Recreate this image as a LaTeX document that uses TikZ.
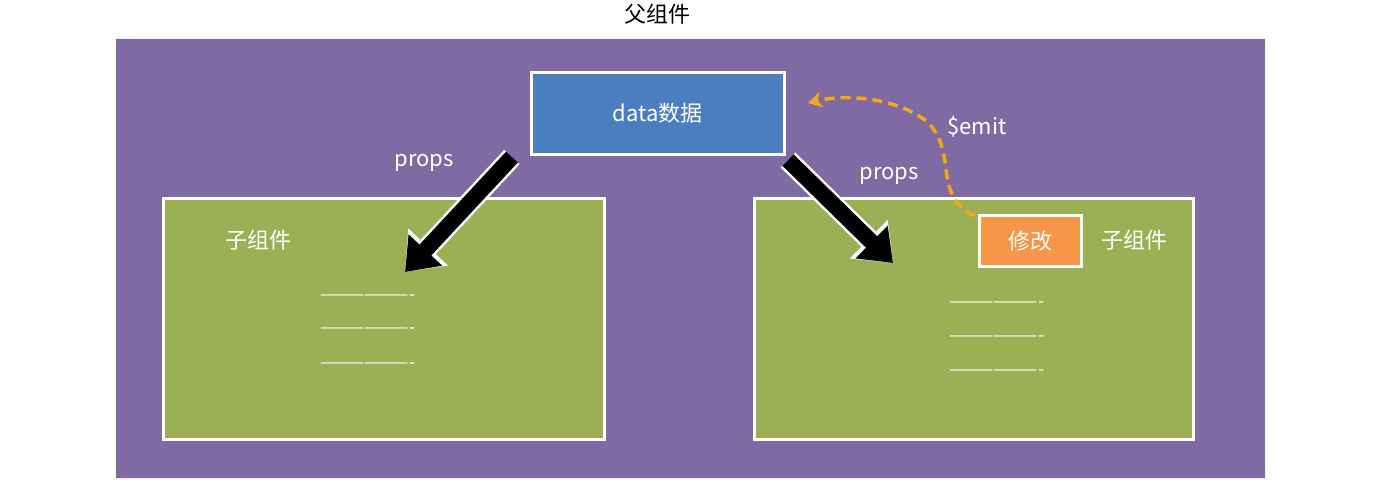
\documentclass[tikz,border=0pt]{standalone}
\usepackage{fontspec}
\setmainfont{Noto Sans CJK SC}
\usetikzlibrary{arrows.meta}
\definecolor{pur}{HTML}{7F6AA3}
\definecolor{blu}{HTML}{4A7EC1}
\definecolor{grn}{HTML}{9BB055}
\definecolor{org}{HTML}{F79646}
\definecolor{gold}{HTML}{F2A818}
\begin{document}
\begin{tikzpicture}[x=1pt,y=-1pt,
  box/.style={draw=white,line width=2.5pt,inner sep=0pt,anchor=north west},
  txt/.style={font=\fontsize{22}{26}\selectfont,text=white},
  dashtxt/.style={font=\fontsize{18}{20}\selectfont,text=white},
  big/.style={line width=16pt,-{Triangle[length=30pt,width=44pt]},black,
    preaction={draw=white,line width=21pt,-{Triangle[length=34pt,width=52pt]}}}]
\useasboundingbox[fill=white] (0,0) rectangle (1374,498);
\node[font=\fontsize{22}{26}\selectfont] (title) at (657,14) {父组件};
\node[box,draw=white!90!gray,line width=1pt,fill=pur,minimum width=1150pt,minimum height=440pt] (parent) at (115,38) {};
\node[box,fill=blu,minimum width=253pt,minimum height=82pt] (data) at (530,71) {};
\node[txt] at (data.center) {data数据};
\node[box,fill=grn,minimum width=441pt,minimum height=241pt] (left) at (162,197) {};
\node[box,fill=grn,minimum width=439pt,minimum height=241pt] (right) at (753,197) {};
\node[box,fill=org,minimum width=102pt,minimum height=51pt] (fix) at (978,214) {};
\node[txt] at (fix.center) {修改};
\node[txt] (lc) at (258,240) {子组件};
\node[txt] (rc) at (1134,240) {子组件};
\node[txt] (p1) at (424,163) {props};
\node[txt] (p2) at (889,176) {props};
\node[txt] (em) at (977,127) {\$emit};
\foreach \y [count=\i] in {298,331,366} \node[dashtxt] (l\i) at (368,\y) {-------------------};
\foreach \y [count=\i] in {305,339,373} \node[dashtxt] (r\i) at (997,\y) {-------------------};
\coordinate (a1s) at (512,157);
\coordinate (a1e) at (405,272);
\coordinate (a2s) at (788,160);
\coordinate (a2e) at (893,263);
\draw[big] (a1s) -- (a1e);
\draw[big] (a2s) -- (a2e);
\coordinate (gs) at (975,216);
\coordinate (ge) at (808,103);
\draw[gold,line width=3.5pt,dash pattern=on 10pt off 6pt,-{Stealth[length=14pt,width=16pt]}]
  (gs) .. controls (930,195) and (960,150) .. (925,120) .. controls (890,95) and (840,95) .. (ge);
\end{tikzpicture}
\end{document}
